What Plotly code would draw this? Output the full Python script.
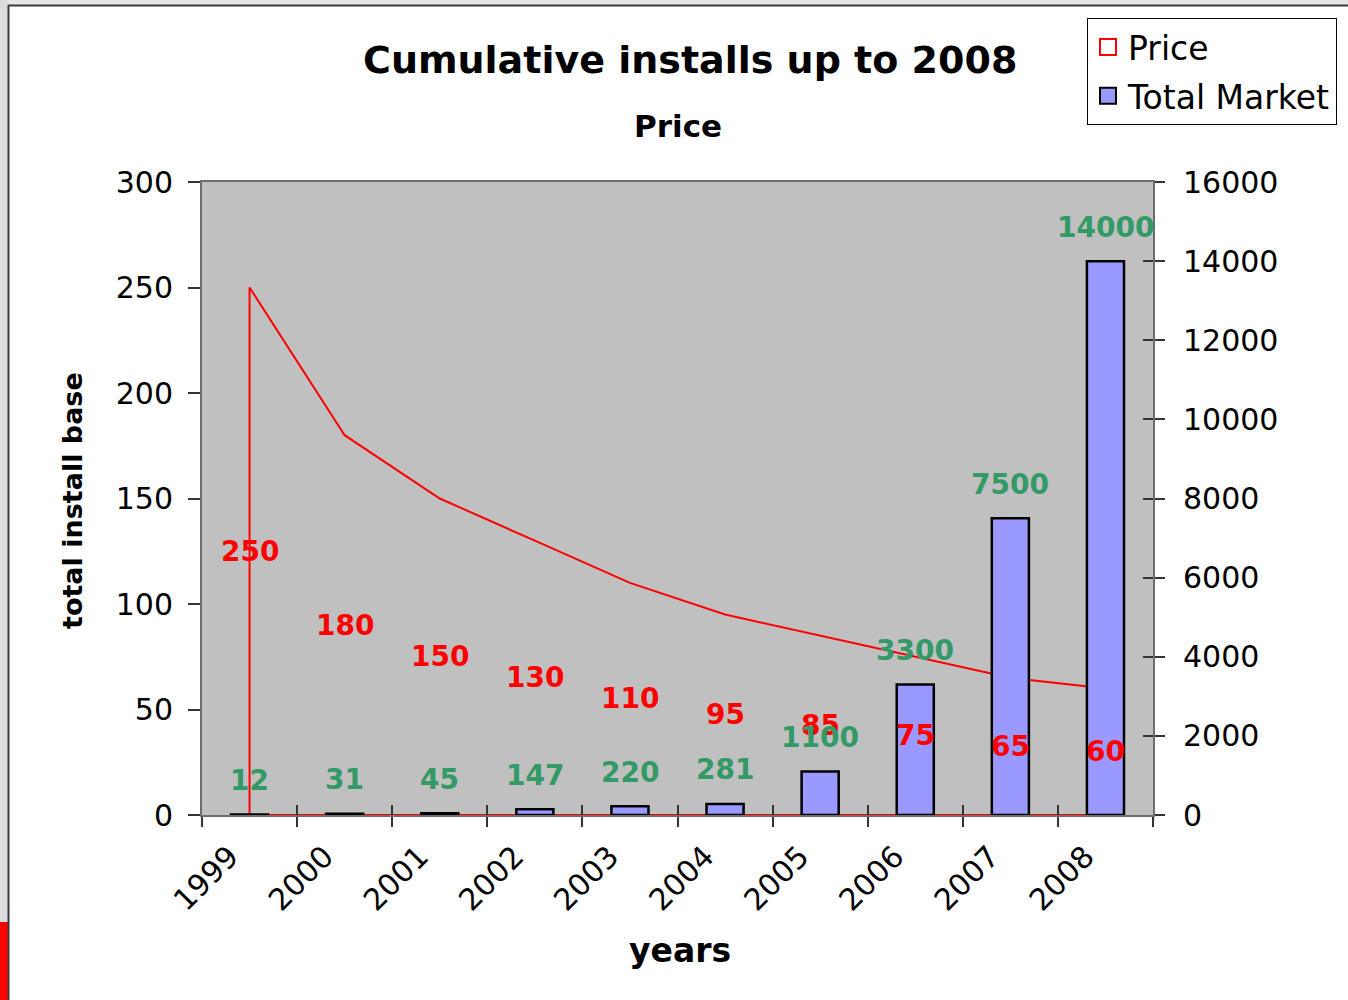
import plotly.graph_objects as go

# ---- data ----
years = ["1999", "2000", "2001", "2002", "2003", "2004", "2005", "2006", "2007", "2008"]
price = [250, 180, 150, 130, 110, 95, 85, 75, 65, 60]
total_market = [12, 31, 45, 147, 220, 281, 1100, 3300, 7500, 14000]

left_ticks = [0, 50, 100, 150, 200, 250, 300]
right_ticks = [0, 2000, 4000, 6000, 8000, 10000, 12000, 14000, 16000]

# ---- layout geometry (pixels) ----
W, H = 1348, 1000
PL, PR, PT, PB = 202, 1153, 182, 815
FONT = "DejaVu Sans"
RED = "#ff0000"
GREEN = "#339966"
BAR_FILL = "#9999ff"
AXIS_COL = "#6e6e6e"


def px_x(p):
    return (p - PL) / (PR - PL)


def px_y(p):
    return (PB - p) / (PB - PT)


fig = go.Figure()

# Price as an outlined (unfilled) area: up from zero, along the prices, back down
area_x = [years[0]] + years + [years[-1], years[0]]
area_y = [0] + price + [0, 0]
fig.add_trace(go.Scatter(
    x=area_x, y=area_y, mode="lines",
    line=dict(color=RED, width=2),
    showlegend=False, hoverinfo="skip", xaxis="x", yaxis="y",
))

# Total market bars on the right-hand axis
fig.add_trace(go.Bar(
    x=years, y=total_market, name="Total Market",
    marker=dict(color=BAR_FILL, line=dict(color="black", width=2.5)),
    width=0.39, showlegend=False, xaxis="x", yaxis="y2",
))

# Legend entries
fig.add_trace(go.Scatter(
    x=[None], y=[None], mode="markers", name="Price",
    marker=dict(symbol="square-open", size=16, color=RED, line=dict(width=2)),
    legendgroup="a", xaxis="x", yaxis="y",
))
fig.add_trace(go.Scatter(
    x=[None], y=[None], mode="markers", name="Total Market",
    marker=dict(symbol="square", size=16, color=BAR_FILL, line=dict(color="black", width=2)),
    legendgroup="b", xaxis="x", yaxis="y",
))

# Helper trace carrying the inner halves of the crossing tick marks
fig.add_trace(go.Scatter(
    x=[years[0]], y=[0], mode="none", showlegend=False, hoverinfo="skip",
    xaxis="x2", yaxis="y3",
))

annotations = []

# Price labels sit in the middle of the area (category index as x position)
for i, v in enumerate(price):
    annotations.append(dict(
        x=i, y=v / 2, xref="x", yref="y", text=str(v), showarrow=False,
        font=dict(family=FONT, size=28, color=RED, weight="bold"),
        xanchor="center", yanchor="middle",
    ))

# Market labels above each bar
for i, v in enumerate(total_market):
    annotations.append(dict(
        x=i, y=v, xref="x", yref="y2", text=str(v), showarrow=False,
        font=dict(family=FONT, size=28, color=GREEN, weight="bold"),
        xanchor="center", yanchor="middle", yshift=34,
    ))

# Titles
annotations += [
    dict(x=px_x(690), y=px_y(60), xref="paper", yref="paper",
         text="Cumulative installs up to 2008", showarrow=False,
         xanchor="center", yanchor="middle",
         font=dict(family=FONT, size=38, color="black", weight="bold")),
    dict(x=px_x(678), y=px_y(126), xref="paper", yref="paper",
         text="Price", showarrow=False, xanchor="center", yanchor="middle",
         font=dict(family=FONT, size=31, color="black", weight="bold")),
    dict(x=px_x(72), y=px_y(501), xref="paper", yref="paper",
         text="total install base", showarrow=False, textangle=-90,
         xanchor="center", yanchor="middle",
         font=dict(family=FONT, size=27, color="black", weight="bold")),
    dict(x=px_x(680), y=px_y(950), xref="paper", yref="paper",
         text="years", showarrow=False, xanchor="center", yanchor="middle",
         font=dict(family=FONT, size=33, color="black", weight="bold")),
]

# Slide frame around the chart
shapes = [
    dict(type="rect", xref="paper", yref="paper", layer="above",
         x0=px_x(0), x1=px_x(W), y0=px_y(0), y1=px_y(5),
         fillcolor="#e6e6e6", line=dict(width=0)),
    dict(type="rect", xref="paper", yref="paper", layer="above",
         x0=px_x(0), x1=px_x(8), y0=px_y(0), y1=px_y(922),
         fillcolor="#dcdcdc", line=dict(width=0)),
    dict(type="rect", xref="paper", yref="paper", layer="above",
         x0=px_x(0), x1=px_x(8), y0=px_y(922), y1=px_y(H),
         fillcolor=RED, line=dict(width=0)),
    dict(type="line", xref="paper", yref="paper", layer="above",
         x0=px_x(8), x1=px_x(W), y0=px_y(5.5), y1=px_y(5.5),
         line=dict(color="#3a3a3a", width=2)),
    dict(type="line", xref="paper", yref="paper", layer="above",
         x0=px_x(8.5), x1=px_x(8.5), y0=px_y(5), y1=px_y(H),
         line=dict(color="#3a3a3a", width=2)),
]

tick_font = dict(family=FONT, size=30, color="black")
cat_range = [-0.5, len(years) - 0.5]

fig.update_layout(
    width=W, height=H,
    margin=dict(l=PL, r=W - PR, t=PT, b=H - PB, autoexpand=False),
    paper_bgcolor="white",
    plot_bgcolor="#c0c0c0",
    barmode="overlay",
    annotations=annotations,
    shapes=shapes,
    legend=dict(
        x=px_x(1087), y=px_y(18), xanchor="left", yanchor="top",
        bgcolor="white", bordercolor="black", borderwidth=1,
        font=dict(family=FONT, size=33, color="black"),
        tracegroupgap=3, itemsizing="trace",
    ),
    xaxis=dict(
        type="category", categoryorder="array", categoryarray=years,
        range=cat_range, tickson="boundaries",
        ticks="outside", ticklen=10, tickwidth=1.5, tickcolor="#333333",
        tickangle=-45, tickfont=tick_font, ticklabelstandoff=10,
        ticklabelshift=-20,
        showline=True, linecolor=AXIS_COL, linewidth=2, mirror=True,
        showgrid=False, zeroline=False,
    ),
    xaxis2=dict(
        type="category", categoryorder="array", categoryarray=years,
        range=cat_range, tickson="boundaries", overlaying="x", anchor="y",
        ticks="inside", ticklen=10, tickwidth=1.5, tickcolor="#333333",
        showticklabels=False, showline=False, showgrid=False, zeroline=False,
    ),
    yaxis=dict(
        range=[0, 300], tickvals=left_ticks,
        ticks="outside", ticklen=12, tickwidth=1.5, tickcolor="#333333",
        tickfont=tick_font, ticklabelstandoff=9,
        showline=True, linecolor=AXIS_COL, linewidth=2,
        showgrid=False, zeroline=False,
    ),
    yaxis2=dict(
        range=[0, 16000], tickvals=right_ticks, tickformat="d",
        overlaying="y", side="right", anchor="x",
        ticks="outside", ticklen=10, tickwidth=1.5, tickcolor="#333333",
        tickfont=tick_font, ticklabelstandoff=12,
        showline=True, linecolor=AXIS_COL, linewidth=2,
        showgrid=False, zeroline=False,
    ),
    yaxis3=dict(
        range=[0, 16000], tickvals=right_ticks, overlaying="y", side="right",
        anchor="x",
        ticks="inside", ticklen=10, tickwidth=1.5, tickcolor="#333333",
        showticklabels=False, showline=False, showgrid=False, zeroline=False,
    ),
)

fig.write_html("out.html")
